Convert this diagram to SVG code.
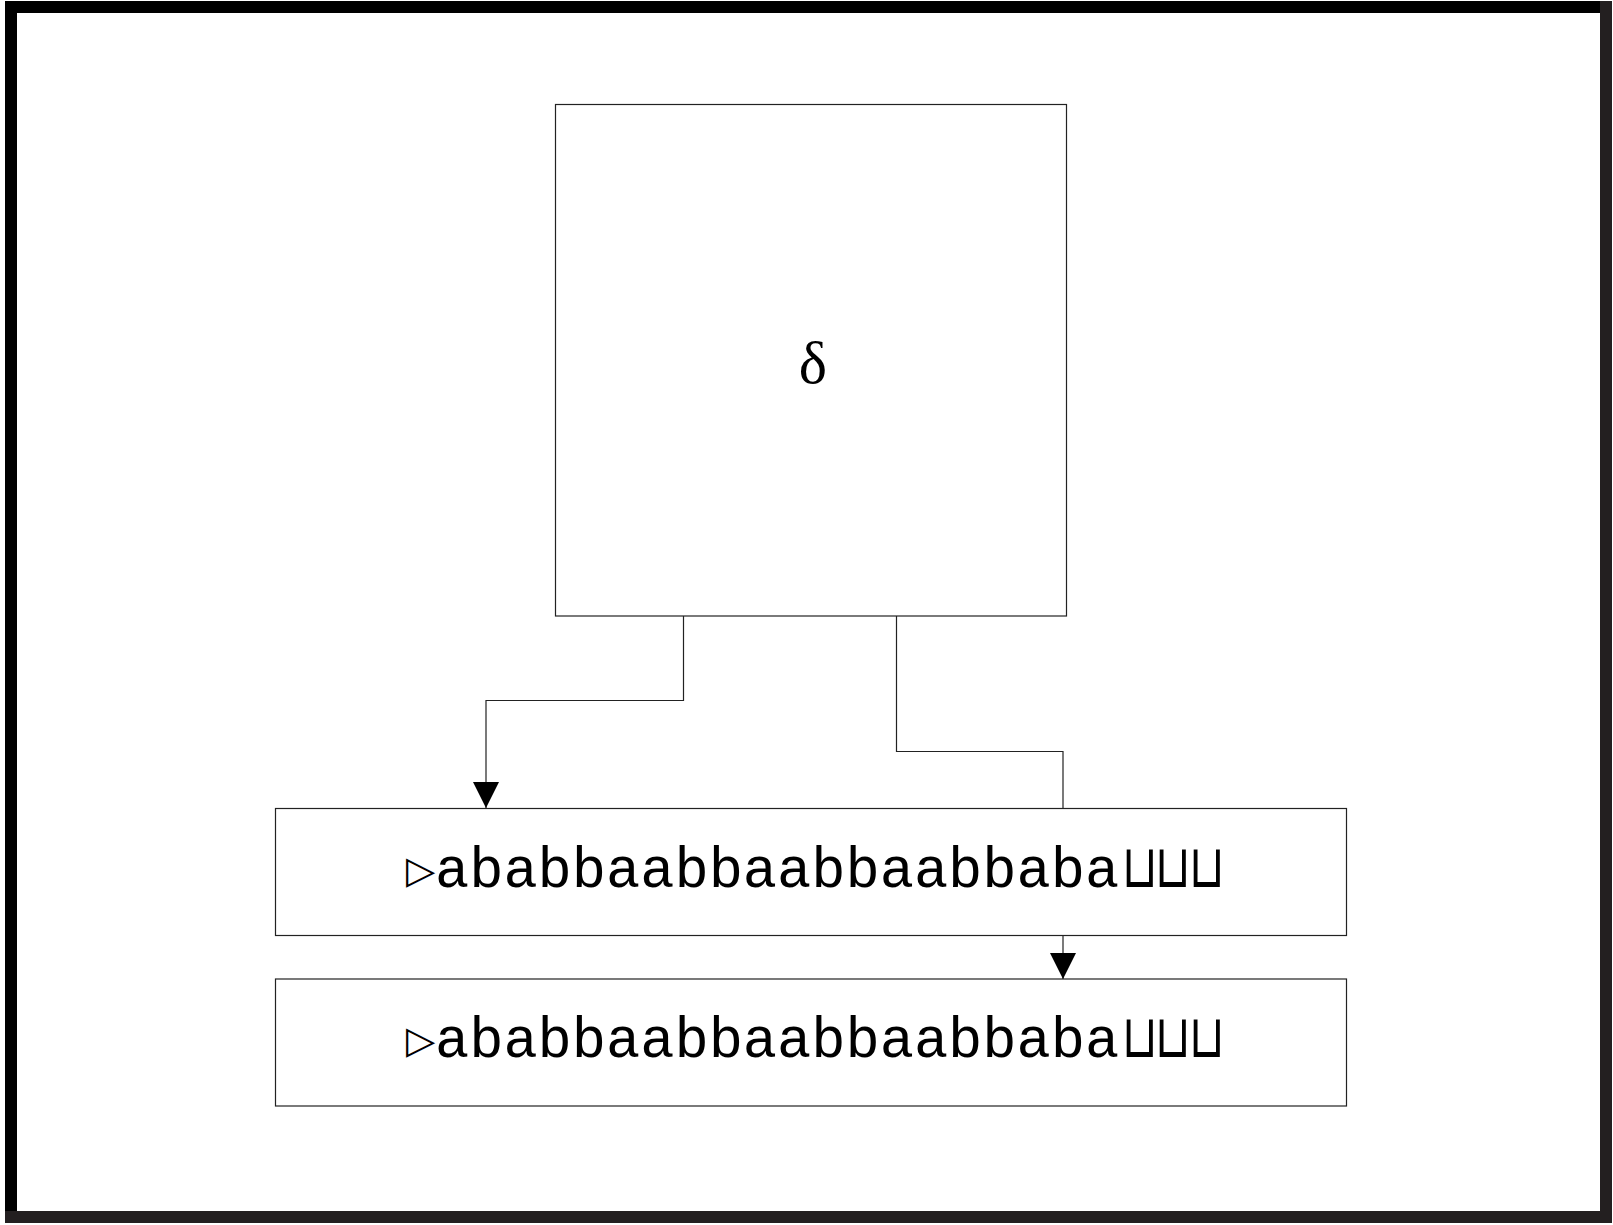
<svg xmlns="http://www.w3.org/2000/svg" width="1613" height="1225" viewBox="0 0 1613 1225">
<style>
.box{fill:#fff;stroke:#222;stroke-width:1.2}
.conn{fill:none;stroke:#222;stroke-width:1.2}
.tape{font-family:"Liberation Mono","Courier New",monospace;font-size:57px;fill:#000}
.tri{font-family:"DejaVu Sans",sans-serif;font-size:38px;fill:#000}
.cup{font-family:"DejaVu Sans",sans-serif;font-size:46px;fill:#000}
.delta{font-family:"Liberation Serif","Times New Roman",serif;font-size:60px;fill:#000}
</style>
<defs>
<marker id="arr" markerUnits="userSpaceOnUse" markerWidth="26" markerHeight="26" refX="26" refY="13" orient="auto" viewBox="0 0 26 26">
<path d="M0,0 L26,13 L0,26 z" fill="#000"/>
</marker>
</defs>
<rect width="1613" height="1225" fill="#fff"/>
<g id="frame">
<path d="M11,1217 V7 H1606" fill="none" stroke="#000" stroke-width="12"/>
<path d="M1606,1 V1217 H5" fill="none" stroke="#231f20" stroke-width="12"/>
</g>
<g id="delta">
<rect class="box" x="555.5" y="104.5" width="511" height="511.5"/>
<text class="delta" x="813" y="383" text-anchor="middle">δ</text>
</g>
<g id="tape1">
<rect class="box" x="275.5" y="808.5" width="1071" height="127"/>
<text class="tri" x="406" y="883">▷</text>
<text class="tape" x="435" y="887">ababbaabbaabbaabbaba</text>
<text class="cup" transform="translate(0,887) scale(1,1.3)" x="1122 1155 1189" y="0">⊔⊔⊔</text>
</g>
<g id="tape2">
<rect class="box" x="275.5" y="979" width="1071" height="127"/>
<text class="tri" x="406" y="1053">▷</text>
<text class="tape" x="435" y="1057">ababbaabbaabbaabbaba</text>
<text class="cup" transform="translate(0,1057) scale(1,1.3)" x="1122 1155 1189" y="0">⊔⊔⊔</text>
</g>
<g id="connectors">
<path class="conn" d="M683.5,616 V700.5 H486 V808" marker-end="url(#arr)"/>
<path class="conn" d="M896.5,616 V751.5 H1063 V808.5"/>
<path class="conn" d="M1063,936 V979" marker-end="url(#arr)"/>
</g>
</svg>
